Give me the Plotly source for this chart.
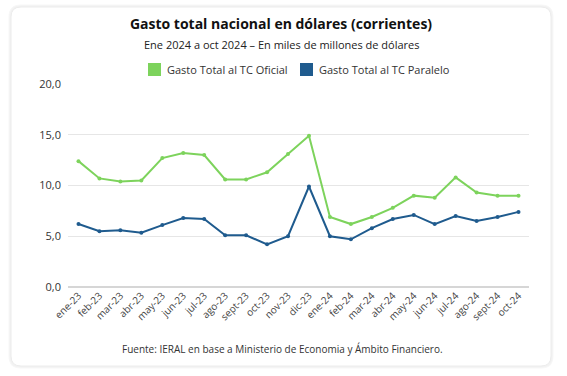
import plotly.graph_objects as go

months = ["ene-23", "feb-23", "mar-23", "abr-23", "may-23", "jun-23", "jul-23", "ago-23",
          "sept-23", "oct-23", "nov-23", "dic-23", "ene-24", "feb-24", "mar-24", "abr-24",
          "may-24", "jun-24", "jul-24", "ago-24", "sept-24", "oct-24"]
oficial = [12.4, 10.7, 10.4, 10.5, 12.7, 13.2, 13.0, 10.6, 10.6, 11.3, 13.1, 14.9,
           6.9, 6.2, 6.9, 7.8, 9.0, 8.8, 10.8, 9.3, 9.0, 9.0]
paralelo = [6.2, 5.5, 5.6, 5.35, 6.1, 6.8, 6.7, 5.1, 5.1, 4.2, 5.0, 9.9,
            5.0, 4.7, 5.8, 6.7, 7.1, 6.2, 7.0, 6.5, 6.9, 7.4]
series_names = ["Gasto Total al TC Oficial", "Gasto Total al TC Paralelo"]

GREEN = "#7dd35c"
BLUE = "#1f5b8e"
FONT = "Open Sans"

fig = go.Figure()
fig.add_trace(go.Scatter(x=months, y=oficial, mode="lines+markers", name=series_names[0],
                         line=dict(color=GREEN, width=2), marker=dict(size=4, color=GREEN),
                         showlegend=False))
fig.add_trace(go.Scatter(x=months, y=paralelo, mode="lines+markers", name=series_names[1],
                         line=dict(color=BLUE, width=2), marker=dict(size=4, color=BLUE),
                         showlegend=False))

# geometry in paper units
L, R, T, B = 68, 529, 84, 287
W, H = R - L, B - T
def px(x): return (x - L) / W
def py(y): return (B - y) / H
x0, x1, y0, y1 = 11, 551, 7, 366
r = 10
rx, ry = r / W, r / H
path = (f"M {px(x0)+rx},{py(y0)} L {px(x1)-rx},{py(y0)} Q {px(x1)},{py(y0)} {px(x1)},{py(y0)-ry} "
        f"L {px(x1)},{py(y1)+ry} Q {px(x1)},{py(y1)} {px(x1)-rx},{py(y1)} "
        f"L {px(x0)+rx},{py(y1)} Q {px(x0)},{py(y1)} {px(x0)},{py(y1)+ry} "
        f"L {px(x0)},{py(y0)-ry} Q {px(x0)},{py(y0)} {px(x0)+rx},{py(y0)} Z")

shapes = []
for i, c in enumerate(["#f7f7f7", "#f2f2f2", "#ececec"]):
    shapes.append(dict(type="path", xref="paper", yref="paper", path=path,
                       line=dict(color=c, width=5 - i * 2), fillcolor="white", layer="below"))

annotations = [
    dict(text="Ene 2024 a oct 2024 – En miles de millones de dólares", xref="paper", yref="paper",
         x=px(281), y=py(44), xanchor="center", yanchor="middle", showarrow=False,
         font=dict(size=11, color="#222222")),
    dict(text="Fuente: IERAL en base a Ministerio de Economia y Ámbito Financiero.", xref="paper",
         yref="paper", x=px(282), y=py(349), xanchor="center", yanchor="middle", showarrow=False,
         font=dict(size=10, color="#333333")),
]
# legend drawn manually (square swatches + text)
for name, col, sx in [(series_names[0], GREEN, 148), (series_names[1], BLUE, 300)]:
    shapes.append(dict(type="rect", xref="paper", yref="paper", x0=px(sx), x1=px(sx + 13),
                       y0=py(76), y1=py(63), fillcolor=col, line=dict(width=0)))
    annotations.append(dict(text=name, xref="paper", yref="paper", x=px(sx + 17), y=py(69.5),
                            xanchor="left", yanchor="middle", showarrow=False,
                            font=dict(size=11, color="#333333")))

fig.update_layout(
    width=567, height=376,
    margin=dict(l=L, r=567 - R, t=T, b=376 - B),
    paper_bgcolor="white", plot_bgcolor="white",
    separators=",.",
    showlegend=False,
    font=dict(family=FONT, color="#333333", size=11),
    title=dict(text="<b>Gasto total nacional en dólares (corrientes)</b>", x=px(281), xref="paper",
               xanchor="center", y=1 - 24 / 376, yanchor="middle",
               font=dict(size=14, color="#111111", family=FONT)),
    annotations=annotations,
    shapes=shapes,
    xaxis=dict(type="category", range=[-0.5, 21.5], tickangle=-45, tickfont=dict(size=10, color="#444444"),
               showgrid=False, showline=False, ticks="", zeroline=False),
    yaxis=dict(range=[0, 20], dtick=5, tickformat=".1f", showgrid=True, gridcolor="#e6e6e6", gridwidth=1,
               zeroline=True, zerolinecolor="#d6d6d6", zerolinewidth=2, showline=False,
               ticks="", ticklabelstandoff=6, tickfont=dict(size=11, color="#333333")),
)
fig.write_html("out.html", config={"displayModeBar": False},
               post_script="document.body.style.margin='0';")
